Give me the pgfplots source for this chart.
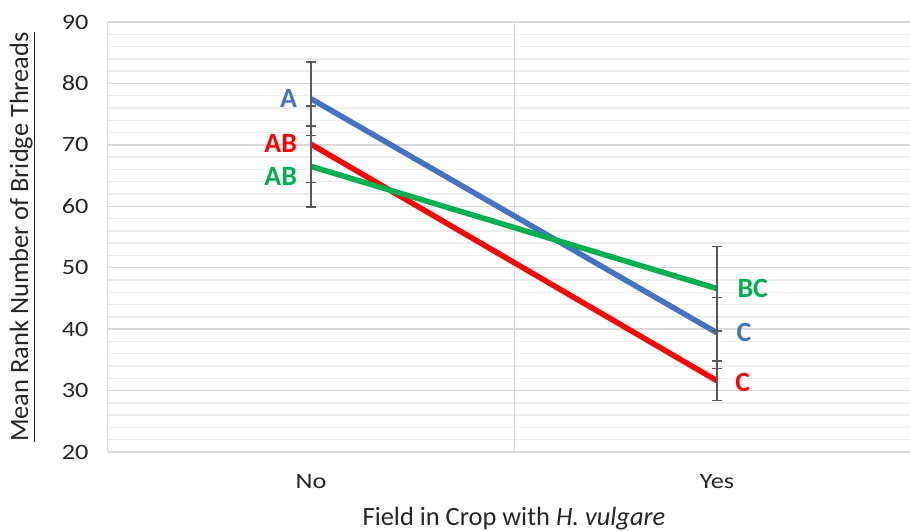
\documentclass[border=0pt]{standalone}
\usepackage{fontspec}
\setmainfont{Carlito}
\newfontfamily\tickfont{Carlito}[FakeStretch=1.2]
\usepackage{pgfplots}
\pgfplotsset{compat=1.18}

\definecolor{xlblue}{HTML}{4472C4}
\definecolor{xlred}{HTML}{FF0000}
\definecolor{xlgreen}{HTML}{00B050}
\definecolor{errgray}{HTML}{595959}
\definecolor{gridmaj}{HTML}{D9D9D9}
\definecolor{gridmin}{HTML}{EDEDED}
\definecolor{txt}{HTML}{262626}

\begin{document}
\begin{tikzpicture}
\begin{axis}[
  name=main,
  at={(0,0)}, anchor=south west,
  scale only axis,
  width=812bp, height=430bp,
  xmin=0, xmax=2,
  ymin=20, ymax=90,
  xtick={0.5,1.5},
  xticklabels={No,Yes},
  extra x ticks={0,1,2},
  extra x tick labels={},
  extra x tick style={grid=major, major grid style={gridmaj, line width=1bp}},
  ytick={20,30,...,90},
  minor y tick num=4,
  ymajorgrids, yminorgrids,
  major grid style={gridmaj, line width=1.3bp},
  minor grid style={gridmin, line width=1.3bp},
  major tick length=0pt, minor tick length=0pt,
  axis x line*=bottom,
  axis y line*=left,
  x axis line style={color=gridmaj, line width=1.3bp, -},
  y axis line style={draw=none},
  /pgf/number format/assume math mode=true,
  tick label style={font=\tickfont\fontsize{22}{26}\selectfont, text=txt},
  yticklabel style={xshift=-16bp},
  xticklabel style={yshift=-19bp},
  xlabel={Field in Crop with \textit{H. vulgare}},
  ylabel={\underline{Mean Rank Number of Bridge Threads}},
  every axis x label/.style={at={(axis description cs:0.5,-0.128)}, anchor=north, inner sep=0pt,
    font=\fontsize{26.5}{30}\selectfont, text=txt},
  every axis y label/.style={at={(axis description cs:-0.09,0.5)}, rotate=90, anchor=south, inner sep=0pt,
    font=\fontsize{26.5}{30}\selectfont, text=txt},
  clip=false,
]

% blue series
\addplot[xlblue, line width=5.5bp, mark=none,
  error bars/.cd, y dir=both, y explicit,
  error bar style={errgray, line width=1.4bp},
  error mark options={errgray, rotate=90, mark size=5bp, line width=1.4bp}]
  table[x=x, y=y, y error=e] {
  x   y     e
  0.5 77.5  6.0
  1.5 39.4  5.8
};

% red series
\addplot[xlred, line width=5.5bp, mark=none,
  error bars/.cd, y dir=both, y explicit,
  error bar style={errgray, line width=1.4bp},
  error mark options={errgray, rotate=90, mark size=5bp, line width=1.4bp}]
  table[x=x, y=y, y error=e] {
  x   y     e
  0.5 70.1  6.2
  1.5 31.6  3.2
};

% green series
\addplot[xlgreen, line width=5.5bp, mark=none,
  error bars/.cd, y dir=both, y explicit,
  error bar style={errgray, line width=1.4bp},
  error mark options={errgray, rotate=90, mark size=5bp, line width=1.4bp}]
  table[x=x, y=y, y error=e] {
  x   y     e
  0.5 66.5  6.6
  1.5 46.6  6.9
};

% letter groups
\begin{scope}[font=\bfseries\fontsize{28}{32}\selectfont, inner sep=0pt]
\node[xlblue, anchor=east] at (axis cs:0.466,77.6) {A};
\node[xlred, anchor=east] at (axis cs:0.466,70.3) {AB};
\node[xlgreen, anchor=east] at (axis cs:0.466,64.8) {AB};
\node[xlgreen, anchor=west] at (axis cs:1.55,46.7) {BC};
\node[xlblue, anchor=west] at (axis cs:1.548,39.4) {C};
\node[xlred, anchor=west] at (axis cs:1.545,31.3) {C};
\end{scope}
\end{axis}
\pgfresetboundingbox
\useasboundingbox (-108bp,-79bp) rectangle (802bp,452bp);
\end{tikzpicture}
\end{document}
